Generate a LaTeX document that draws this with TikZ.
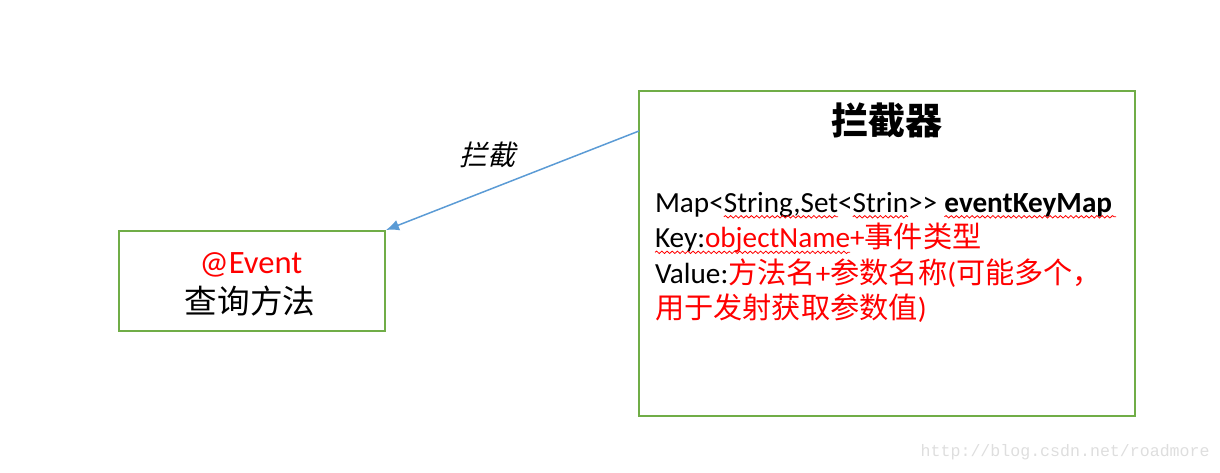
\documentclass[tikz,border=0pt]{standalone}
\usepackage{fontspec}
\usetikzlibrary{decorations.pathmorphing,arrows.meta}
\setmainfont{Carlito}
\newfontfamily\cjk{Noto Sans CJK SC}
\newfontfamily\cjkslant{Noto Sans CJK SC}[FakeSlant=0.25]
\newfontfamily\markfont{Liberation Mono}

\definecolor{boxgreen}{RGB}{112,173,71}
\definecolor{linkblue}{RGB}{91,155,213}
\definecolor{markgray}{RGB}{222,222,222}

\tikzset{>={Latex[length=6.5pt,width=5.5pt]}}
\tikzset{
  box/.style={draw=boxgreen, line width=1pt, inner sep=0pt},
  mapline/.style={anchor=base west, inner sep=0pt, outer sep=0pt, font=\fontsize{14.6}{17}\selectfont},
  spell/.style={red, line width=0.4pt, decorate, decoration={snake, amplitude=0.6pt, segment length=2.6pt}},
}

\begin{document}
\begin{tikzpicture}[x=0.5pt,y=-0.5pt]
\useasboundingbox (0,0) rectangle (1220,472);

% interceptor
\node[box, minimum width=248pt, minimum height=162.5pt] (intc) at (887,253.5) {};
\node[inner sep=0pt] (title) at (887,120) {\cjk\bfseries\fontsize{18.5}{20}\selectfont 拦截器};

% map line
\node[mapline] (m1) at (655,212) {Map<};
\node[mapline] (m2) at (m1.base east) {String,Set};
\node[mapline] (m3) at (m2.base east) {<};
\node[mapline] (m4) at (m3.base east) {Strin};
\node[mapline] (m5) at (m4.base east) {>{}>};
\node[mapline] (m6) at ([xshift=3.6pt]m5.base east) {\textbf{eventKeyMap}};

% key line
\node[mapline] (k1) at (655,247.5) {Key:};
\node[mapline, text=red] (k2) at (k1.base east) {objectName};
\node[mapline, text=red] (k3) at (k2.base east) {+{\cjk 事件类型}};

% value lines
\node[mapline] (v1) at (655,283) {Value:\textcolor{red}{{\cjk 方法名}+{\cjk 参数名称}({\cjk 可能多个，}}};
\node[mapline, text=red] (v2) at (655,318.5) {{\cjk 用于发射获取参数值})};

% spell-check waves
\draw[spell] ([yshift=-2.4pt]m2.base west) -- ([yshift=-2.4pt]m2.base east);
\draw[spell] ([yshift=-2.4pt]m4.base west) -- ([yshift=-2.4pt]m4.base east);
\draw[spell] ([yshift=-2.4pt]m6.base west) -- ([yshift=-2.4pt,xshift=2pt]m6.base east);
\draw[spell] ([yshift=-2.4pt]k1.base west) -- ([yshift=-2.4pt]k2.base east);

% event method
\node[box, minimum width=133pt, minimum height=50pt] (evt) at (252,281) {};
\node[anchor=base, inner sep=0pt, text=red, font=\fontsize{16.3}{18}\selectfont] (anno) at (251,273) {@Event};
\node[anchor=base, inner sep=0pt, font=\cjk\fontsize{16.3}{18}\selectfont] (query) at (250,313) {查询方法};

% intercept arrow
\coordinate (src) at (639,131);
\draw[->, linkblue, line width=0.75pt] (src) -- (evt.north east);
\node[inner sep=0pt, font=\cjkslant\fontsize{14}{16}\selectfont] (lbl) at (487,155) {拦截};

\node[anchor=base east, inner sep=0pt, text=markgray, font=\markfont\fontsize{8.3}{10}\selectfont] (wm) at (1210,456) {http://blog.csdn.net/roadmore};

\end{tikzpicture}
\end{document}
